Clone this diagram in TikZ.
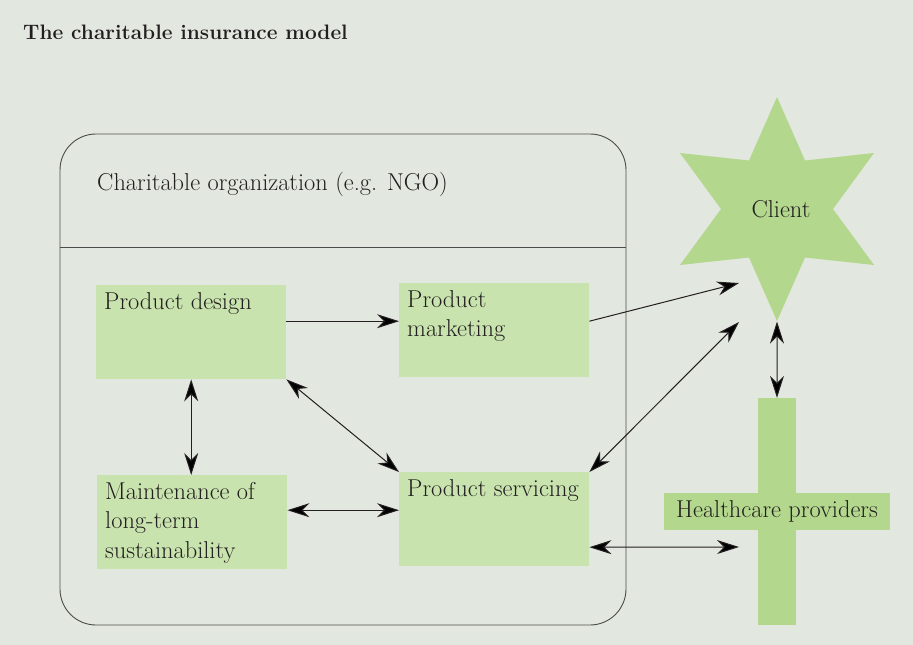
\documentclass[tikz,border=0pt]{standalone}
\usepackage{fontspec}
\usetikzlibrary{shapes.geometric,arrows.meta}
\definecolor{bgcol}{HTML}{E2E7DF}
\definecolor{boxcol}{HTML}{C9E3AE}
\definecolor{starcol}{HTML}{B3D78C}
\definecolor{linecol}{HTML}{231F20}
\newcommand{\boxtxt}[1]{\parbox[t][80pt][t]{174pt}{\raggedright #1}}
\tikzset{
  txt/.style={font=\fontsize{24.4}{29.5}\selectfont, text=linecol},
  actbox/.style={txt, fill=boxcol, inner xsep=8pt, inner ysep=7pt, anchor=north west},
  orgbox/.style={draw=black!70, line width=0.9pt},
  link/.style={draw=linecol, line width=1pt},
  fwd/.style={-{Stealth[length=22pt,width=14pt,inset=7pt]}},
  both/.style={{Stealth[length=22pt,width=14pt,inset=7pt]}-{Stealth[length=22pt,width=14pt,inset=7pt]}}
}
\begin{document}
\begin{tikzpicture}[x=1pt,y=-1pt]
  \fill[bgcol] (0,0) rectangle (913,645);
  \useasboundingbox (0,0) rectangle (913,645);
  \node[txt, font=\fontsize{20.9}{24}\selectfont\bfseries, anchor=base west, inner sep=0pt] (title) at (23,39) {The charitable insurance model};
  \node[orgbox, rounded corners=36pt, minimum width=566pt, minimum height=491pt] (org) at (343,379.5) {};
  \draw[orgbox] (org.west|-0,247) -- (org.east|-0,247);
  \node[txt, anchor=base west, inner sep=0pt] (orgname) at (97,190) {Charitable organization (e.g. NGO)};
  \node[actbox] (dsg) at (96,285) {\boxtxt{Product design}};
  \node[actbox] (mkt) at (399,283) {\boxtxt{Product\\marketing}};
  \node[actbox] (mnt) at (97,475) {\boxtxt{Maintenance of\\long-term\\sustainability}};
  \node[actbox] (srv) at (399,472) {\boxtxt{Product servicing}};
  \node[txt, star, star points=6, star point ratio=2, minimum size=224pt, inner sep=0pt, fill=starcol] (client) at (777,209) {\hspace{8pt}Client};
  \node[fill=starcol, minimum width=38pt, minimum height=227pt, inner sep=0pt] (provbar) at (777,511.5) {};
  \node[txt, fill=starcol, minimum width=226pt, minimum height=37pt, inner sep=0pt] (prov) at (777,511.5) {Healthcare providers};
  \coordinate (c1) at (739,283);
  \coordinate (c2) at (739,322);
  \coordinate (h1) at (739,547);
  \path[link]
  ([yshift=11pt]dsg.east) edge[fwd] ([yshift=9pt]mkt.west)
  (dsg.south) edge[both] (dsg.south|-mnt.north)
  (dsg.south east) edge[both] (srv.north west)
  ([yshift=12pt]mnt.east) edge[both] ([yshift=9pt]srv.west)
  ([yshift=9pt]mkt.east) edge[fwd] (c1)
  (srv.north east) edge[both] (c2)
  ([yshift=-28pt]srv.east) edge[both] (h1)
  (client.south) edge[both] (provbar.north);
\end{tikzpicture}
\end{document}
